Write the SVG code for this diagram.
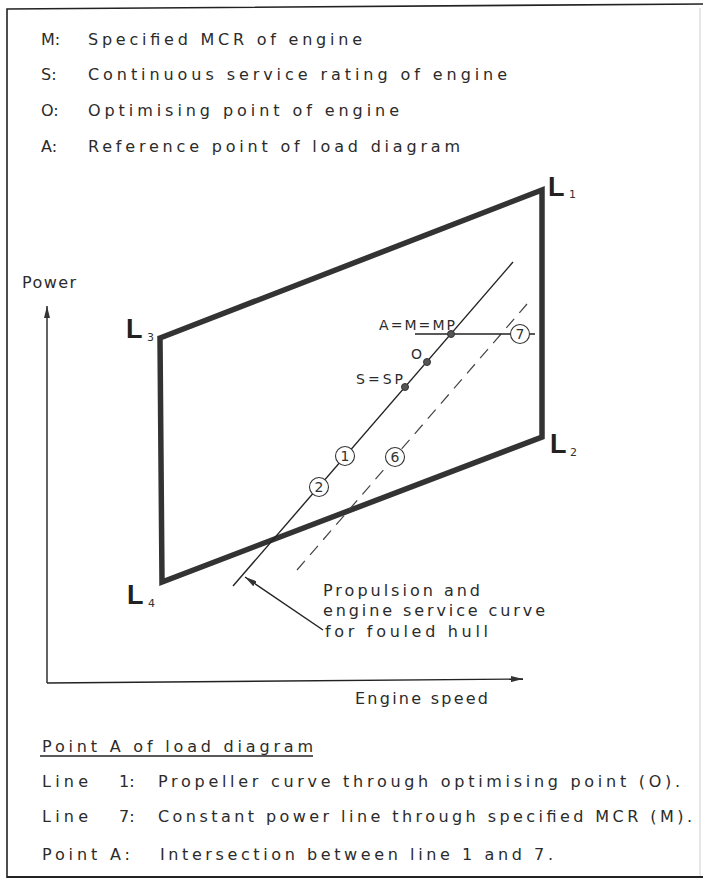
<svg xmlns="http://www.w3.org/2000/svg" width="703" height="881" viewBox="0 0 703 881">
<style>
.t{font-family:"DejaVu Sans","Liberation Sans",sans-serif;font-size:16px;fill:#2b2b2b}
.s{font-family:"DejaVu Sans","Liberation Sans",sans-serif;font-size:14px;fill:#2b2b2b}
.L{font-family:"Liberation Sans",Arial,sans-serif;font-size:27px;font-weight:bold;fill:#222}
.sub{font-family:"DejaVu Sans","Liberation Sans",sans-serif;font-size:11px;fill:#333}
.thin{fill:none;stroke:#222;stroke-width:1.4}
.dash{fill:none;stroke:#444;stroke-width:1.2;stroke-dasharray:12 8}
.num{fill:#fff;stroke:#333;stroke-width:1.1}
.nt{font-family:"DejaVu Sans","Liberation Sans",sans-serif;font-size:14px;fill:#333;text-anchor:middle}
.dot{fill:#555;stroke:#333;stroke-width:1}
</style>
<defs>
<marker id="ah" viewBox="0 0 12 6" refX="12" refY="3" markerWidth="12" markerHeight="6" markerUnits="userSpaceOnUse" orient="auto">
<path d="M0,0 L12,3 L0,6 Z" fill="#333"/>
</marker>
</defs>
<rect width="703" height="881" fill="#fff"/>
<g id="frame">
<path d="M7,878 L7,9 L703,4" fill="none" stroke="#222" stroke-width="1.6"/>
<path d="M7,877 L703,877" fill="none" stroke="#222" stroke-width="1.8"/>
<path d="M700,8 L700,876" fill="none" stroke="#ccc" stroke-width="1"/>
</g>
<g id="legend">
<text class="t" x="41" y="45">M:</text>
<text class="t" x="88" y="45" textLength="274" lengthAdjust="spacing">Specified MCR of engine</text>
<text class="t" x="41" y="80">S:</text>
<text class="t" x="88" y="80" textLength="419" lengthAdjust="spacing">Continuous service rating of engine</text>
<text class="t" x="41" y="116">O:</text>
<text class="t" x="88" y="116" textLength="311" lengthAdjust="spacing">Optimising point of engine</text>
<text class="t" x="41" y="152">A:</text>
<text class="t" x="88" y="152" textLength="372" lengthAdjust="spacing">Reference point of load diagram</text>
</g>
<g id="axes">
<line class="thin" x1="47" y1="683" x2="47" y2="306" marker-end="url(#ah)"/>
<line class="thin" x1="47" y1="683" x2="523" y2="679" marker-end="url(#ah)"/>
<text class="t" x="22" y="288" textLength="54" lengthAdjust="spacing">Power</text>
<text class="t" x="355" y="704" textLength="133" lengthAdjust="spacing">Engine speed</text>
</g>
<g id="load-diagram">
<polygon points="160,338 542,190 542,437 162,582" fill="none" stroke="#333" stroke-width="5.5" stroke-linejoin="miter"/>
</g>
<g id="label-L1"><text class="L" x="548" y="196">L</text><text class="sub" x="569" y="198">1</text></g>
<g id="label-L3"><text class="L" x="126" y="338">L</text><text class="sub" x="147" y="341">3</text></g>
<g id="label-L2"><text class="L" x="550" y="453">L</text><text class="sub" x="570" y="456">2</text></g>
<g id="label-L4"><text class="L" x="127" y="604">L</text><text class="sub" x="148" y="607">4</text></g>
<g id="connectors">
<line id="line1" class="thin" x1="233" y1="586" x2="513" y2="262"/>
<line id="line6" class="dash" x1="297" y1="570" x2="527" y2="304"/>
<line id="line7" class="thin" x1="415" y1="334" x2="535" y2="334" stroke-width="1.1"/>
<line id="leader" class="thin" x1="323" y1="630" x2="245" y2="577" stroke-width="1.1" marker-end="url(#ah)"/>
</g>
<g id="circle-1"><circle class="num" cx="345" cy="456" r="9.5"/><text class="nt" x="345" y="461">1</text></g>
<g id="circle-2"><circle class="num" cx="319" cy="487" r="9.5"/><text class="nt" x="319" y="492">2</text></g>
<g id="circle-6"><circle class="num" cx="395" cy="457" r="9.5"/><text class="nt" x="395" y="462">6</text></g>
<g id="circle-7"><circle class="num" cx="520" cy="334" r="9.5"/><text class="nt" x="520" y="339">7</text></g>
<g id="point-A"><circle class="dot" cx="451" cy="334" r="3.5"/><text class="s" x="379" y="330" textLength="76" lengthAdjust="spacing">A=M=MP</text></g>
<g id="point-O"><circle class="dot" cx="427" cy="362" r="3.5"/><text class="s" x="411" y="359">O</text></g>
<g id="point-S"><circle class="dot" cx="405" cy="387" r="3.5"/><text class="s" x="356" y="384" textLength="47" lengthAdjust="spacing">S=SP</text></g>
<g id="note">
<text class="t" x="323" y="596" textLength="157" lengthAdjust="spacing">Propulsion and</text>
<text class="t" x="323" y="616" textLength="222" lengthAdjust="spacing">engine service curve</text>
<text class="t" x="325" y="637" textLength="163" lengthAdjust="spacing">for fouled hull</text>
</g>
<g id="explanation">
<text class="t" x="42" y="752" textLength="271" lengthAdjust="spacing">Point A of load diagram</text>
<line x1="40" y1="756" x2="313" y2="756" stroke="#222" stroke-width="1.5"/>
<text class="t" x="42" y="787" textLength="46" lengthAdjust="spacing">Line</text>
<text class="t" x="119" y="787">1:</text>
<text class="t" x="158" y="787" textLength="522" lengthAdjust="spacing">Propeller curve through optimising point (O).</text>
<text class="t" x="42" y="822" textLength="46" lengthAdjust="spacing">Line</text>
<text class="t" x="119" y="822">7:</text>
<text class="t" x="158" y="822" textLength="534" lengthAdjust="spacing">Constant power line through specified MCR (M).</text>
<text class="t" x="42" y="860" textLength="88" lengthAdjust="spacing">Point A:</text>
<text class="t" x="160" y="860" textLength="393" lengthAdjust="spacing">Intersection between line 1 and 7.</text>
</g>
</svg>
